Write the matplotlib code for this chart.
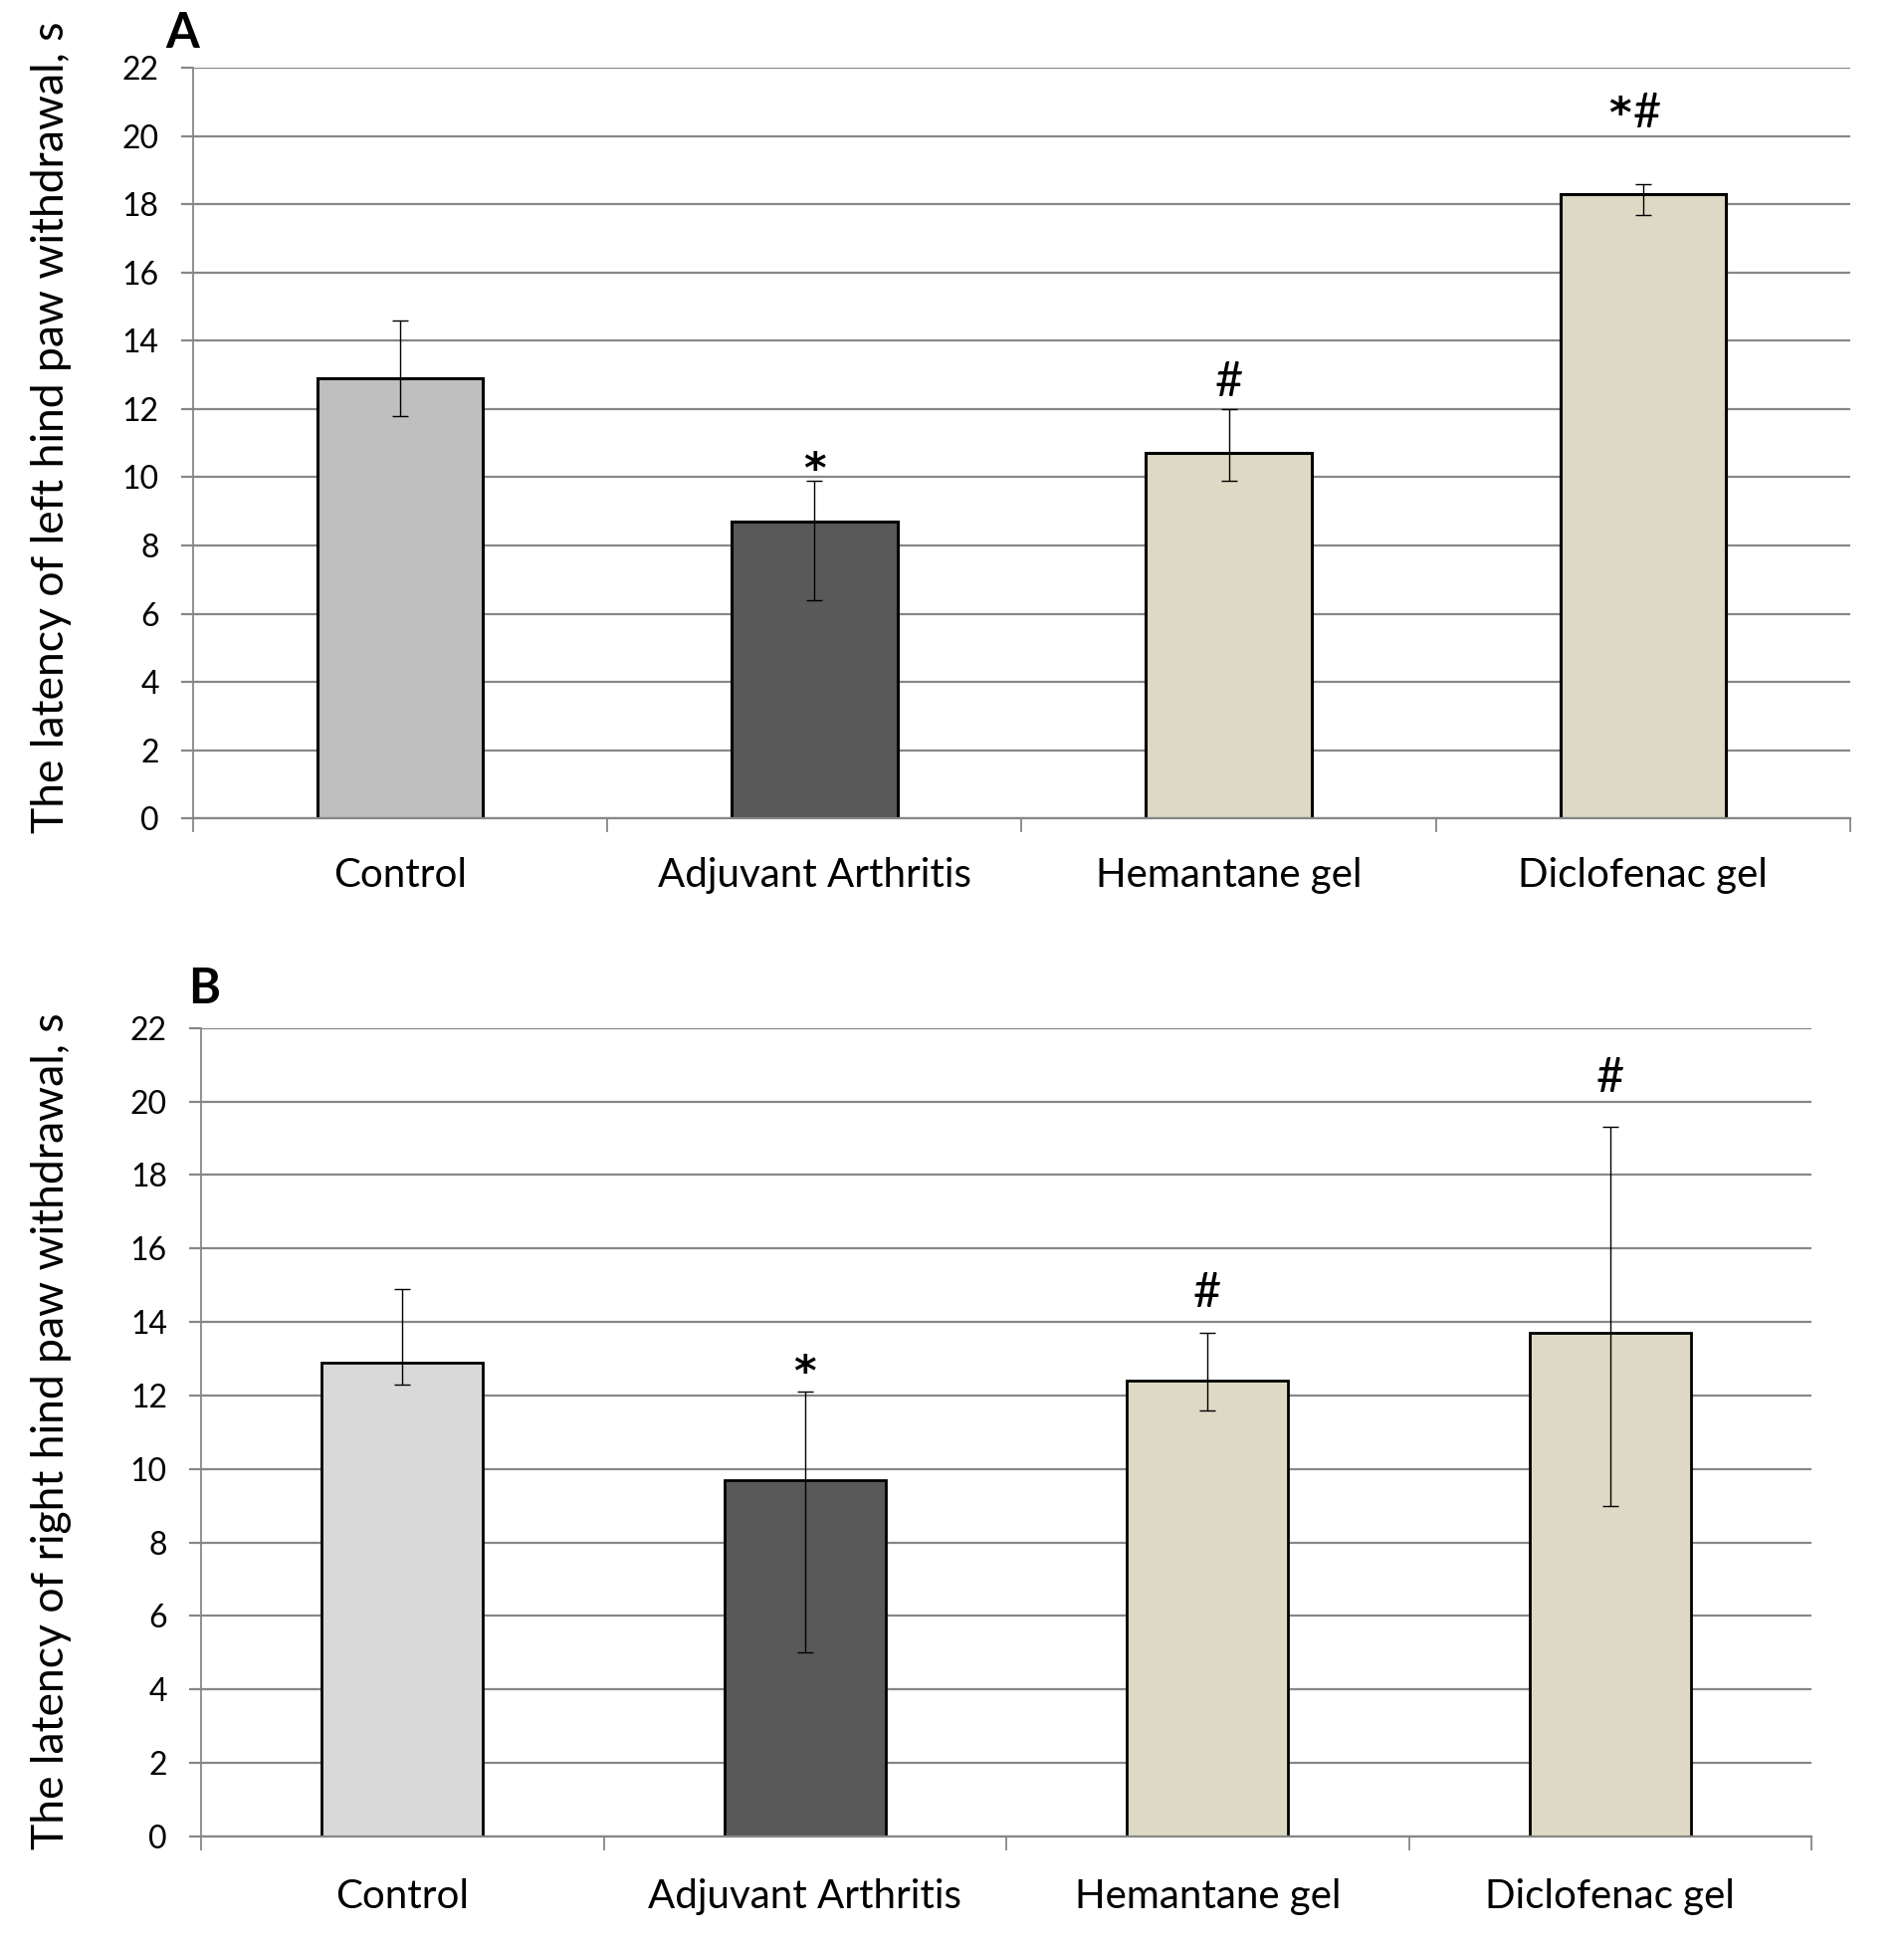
import matplotlib
matplotlib.use("Agg")
import matplotlib.pyplot as plt
import numpy as np

plt.rcParams['font.family'] = ['Lato', 'DejaVu Sans']

groups = ["Control", "Adjuvant Arthritis", "Hemantane gel", "Diclofenac gel"]

# panel A: left hind paw
left_mean = [12.9, 8.7, 10.7, 18.3]
left_err_low = [1.1, 2.3, 0.8, 0.6]
left_err_high = [1.7, 1.2, 1.3, 0.3]
left_stars = [False, True, False, True]
left_hash = [False, False, True, True]
left_mark_y = [0, 9.85, 12.38, 20.26]

# panel B: right hind paw
right_mean = [12.9, 9.7, 12.4, 13.7]
right_err_low = [0.6, 4.7, 0.8, 4.7]
right_err_high = [2.0, 2.4, 1.3, 5.6]
right_stars = [False, True, False, False]
right_hash = [False, False, True, True]
right_mark_y = [0, 12.27, 14.41, 20.27]

colorsA = ["#BFBFBF", "#595959", "#DDD9C4", "#DDD9C4"]
colorsB = ["#D9D9D9", "#595959", "#DDD9C4", "#DDD9C4"]

GRID = "#878787"


def draw_panel(ax, means, lo, hi, colors, stars, hashes, mark_y, edge_lw, label_pad):
   x = np.arange(len(groups))
   ax.set_axisbelow(True)
   ax.yaxis.grid(True, color=GRID, linewidth=1.6)
   ax.bar(x, means, width=0.4, color=colors, edgecolor="black", linewidth=edge_lw, zorder=2)
   ax.errorbar(x, means, yerr=[lo, hi], fmt="none", ecolor="black",
               elinewidth=1.0, capsize=5.5, capthick=1.0, zorder=3)
   # significance marks (* vs control, # vs arthritis)
   for xi, st, hs, yy in zip(x, stars, hashes, mark_y):
      if st and hs:
         ax.text(xi - 0.03, yy, "*", ha="right", va="baseline", fontsize=31,
                 family="DejaVu Sans", fontweight="bold", zorder=4)
         ax.text(xi - 0.025, yy, "#", ha="left", va="baseline", fontsize=35, zorder=4)
      elif st:
         ax.text(xi, yy, "*", ha="center", va="baseline", fontsize=31,
                 family="DejaVu Sans", fontweight="bold", zorder=4)
      elif hs:
         ax.text(xi, yy, "#", ha="center", va="baseline", fontsize=35, zorder=4)

   ax.set_xlim(-0.5, len(groups) - 0.5)
   ax.set_ylim(0, 22)
   ax.set_yticks(np.arange(0, 23, 2))
   ax.set_xticks(x)
   ax.set_xticklabels(groups, fontsize=29)
   ax.set_xticks(np.arange(-0.5, len(groups), 1.0), minor=True)
   ax.tick_params(axis="x", which="major", length=0, pad=label_pad)
   ax.tick_params(axis="x", which="minor", length=10, width=1.3, color=GRID)
   ax.tick_params(axis="y", length=8.5, width=1.6, color=GRID, labelsize=23, pad=16)

   for s in ["top", "right"]:
      ax.spines[s].set_visible(False)
   ax.spines["left"].set_color(GRID)
   ax.spines["left"].set_linewidth(1.3)
   ax.spines["bottom"].set_color(GRID)
   ax.spines["bottom"].set_linewidth(1.6)


fig = plt.figure(figsize=(19.13, 19.53), dpi=100)

axA = fig.add_axes([0.1013, 0.5790, 0.8705, 0.3861])
draw_panel(axA, left_mean, left_err_low, left_err_high, colorsA,
           left_stars, left_hash, left_mark_y, 2.2, 28)
fig.text(0.027, 0.780, "The latency of left hind paw withdrawal, s", rotation=90,
         ha="center", va="center", fontsize=32)
fig.text(0.0957, 0.9754, "A", ha="center", va="baseline", fontsize=35, fontweight="bold")

axB = fig.add_axes([0.1056, 0.0553, 0.8458, 0.4159])
draw_panel(axB, right_mean, right_err_low, right_err_high, colorsB,
           right_stars, right_hash, right_mark_y, 2.0, 30)
fig.text(0.027, 0.2637, "The latency of right hind paw withdrawal, s", rotation=90,
         ha="center", va="center", fontsize=32)
fig.text(0.1072, 0.4839, "B", ha="center", va="baseline", fontsize=35, fontweight="bold")

fig.savefig("out.png", dpi=100)
